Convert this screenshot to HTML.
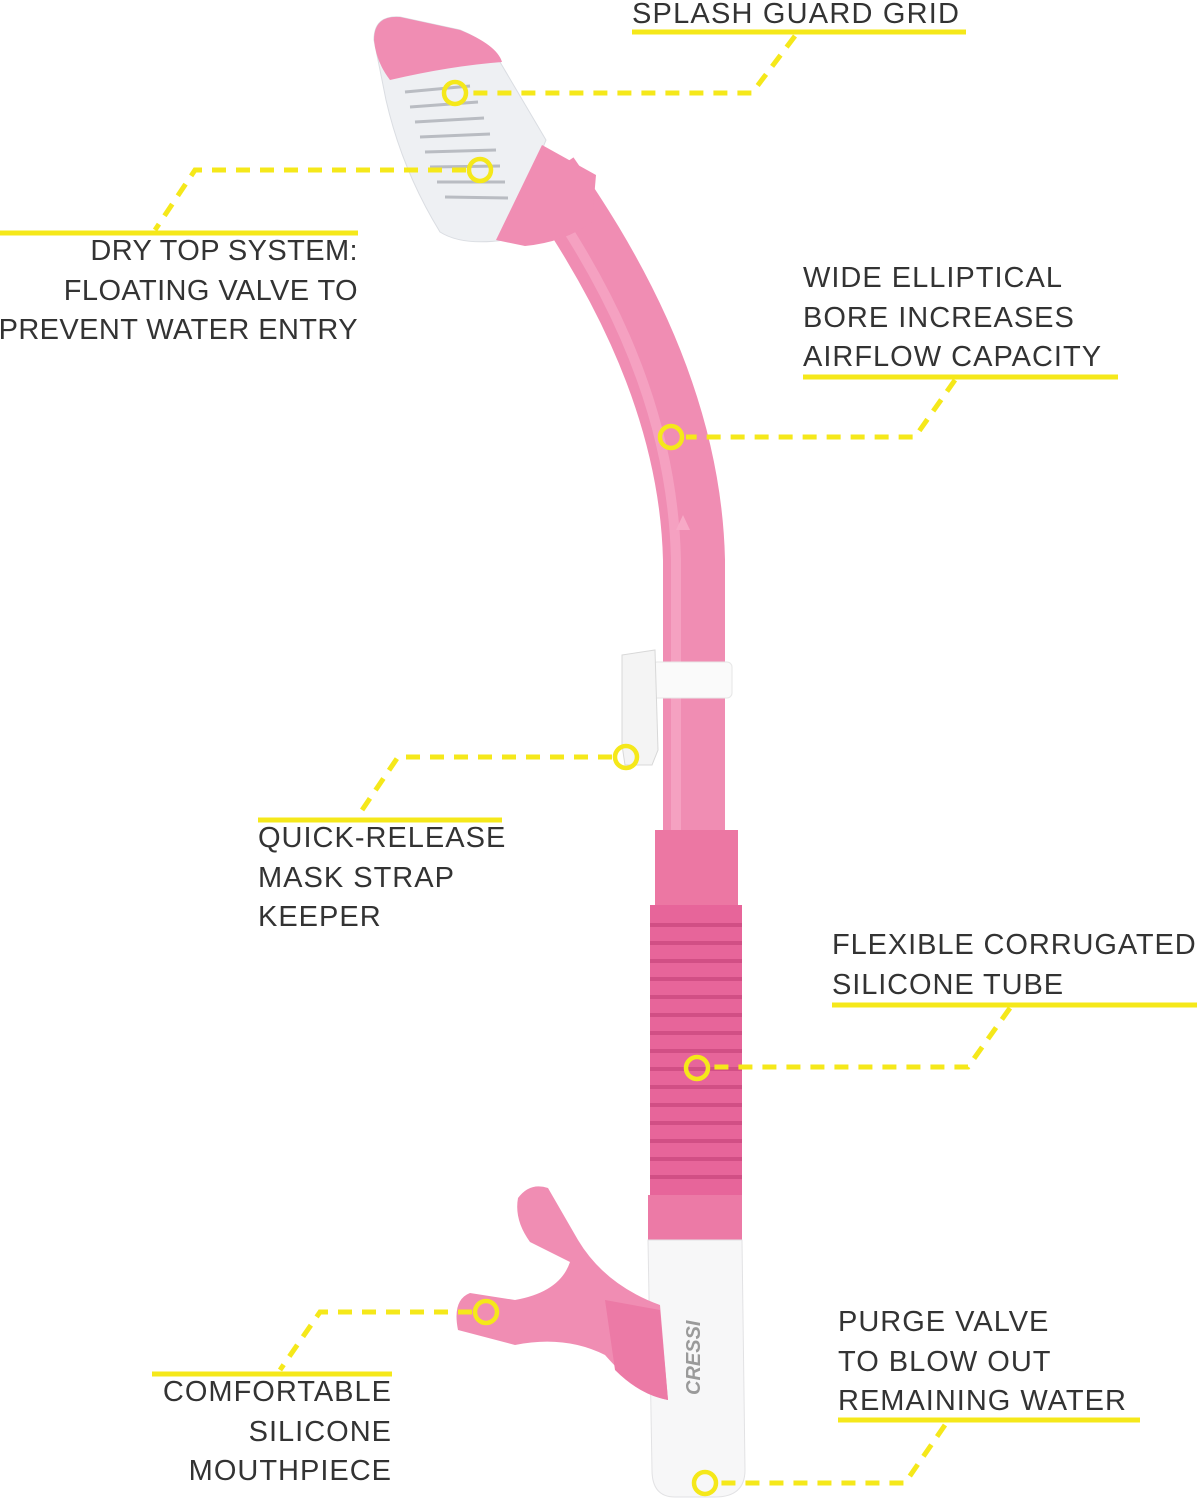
<!DOCTYPE html>
<html><head><meta charset="utf-8">
<style>
html,body{margin:0;padding:0;background:#fff;}
body{width:1198px;height:1500px;position:relative;overflow:hidden;font-family:"Liberation Sans",sans-serif;}
.t{position:absolute;font-size:29px;color:#333;line-height:39.5px;letter-spacing:1px;white-space:nowrap;}
.r{text-align:right;}
svg{position:absolute;left:0;top:0;}
</style></head><body>
<svg width="1198" height="1500" viewBox="0 0 1198 1500">
<path d="M 548 175 C 600 250, 690 390, 694 560 L 694 840" fill="none" stroke="#f08db3" stroke-width="62"/>
<path d="M 538 185 C 590 260, 672 390, 676 560 L 676 840" fill="none" stroke="#f6aac8" stroke-width="10" opacity="0.7"/>
<path d="M 676 530 L 683 515 L 690 530 Z" fill="#f7a9c6"/>
<!-- top cap -->
<path d="M 374 40 Q 374 15 400 17 L 460 30 Q 495 45 500 62 L 546 140 L 505 240 Q 462 246 440 232 Q 402 170 386 100 Z" fill="#eef0f3" stroke="#dadde2" stroke-width="1"/>
<path d="M 374 40 Q 374 15 400 17 L 460 30 Q 497 45 502 62 Q 450 66 390 80 Q 376 62 374 40 Z" fill="#f08db3"/>
<g stroke="#b9bcc2" stroke-width="3">
<line x1="405" y1="92" x2="470" y2="86"/><line x1="410" y1="107" x2="478" y2="102"/>
<line x1="415" y1="122" x2="484" y2="118"/><line x1="420" y1="137" x2="490" y2="134"/>
<line x1="425" y1="152" x2="496" y2="150"/><line x1="430" y1="167" x2="500" y2="166"/>
<line x1="437" y1="182" x2="505" y2="182"/><line x1="445" y1="197" x2="508" y2="198"/>
</g>
<path d="M 542 145 L 596 175 L 592 222 Q 565 242 525 246 L 496 240 Z" fill="#f08db3"/>
<rect x="655" y="830" width="83" height="80" fill="#ec77a3"/>
<rect x="650" y="905" width="92" height="300" fill="#e7659a"/>
<g stroke="#d14f85" stroke-width="4">
<line x1="650" y1="925" x2="742" y2="925"/><line x1="650" y1="943" x2="742" y2="943"/>
<line x1="650" y1="961" x2="742" y2="961"/><line x1="650" y1="979" x2="742" y2="979"/>
<line x1="650" y1="997" x2="742" y2="997"/><line x1="650" y1="1015" x2="742" y2="1015"/>
<line x1="650" y1="1033" x2="742" y2="1033"/><line x1="650" y1="1051" x2="742" y2="1051"/>
<line x1="650" y1="1069" x2="742" y2="1069"/><line x1="650" y1="1087" x2="742" y2="1087"/>
<line x1="650" y1="1105" x2="742" y2="1105"/><line x1="650" y1="1123" x2="742" y2="1123"/>
<line x1="650" y1="1141" x2="742" y2="1141"/><line x1="650" y1="1159" x2="742" y2="1159"/>
<line x1="650" y1="1177" x2="742" y2="1177"/>
</g>
<rect x="648" y="1195" width="94" height="50" fill="#ec7aa6"/>
<path d="M 648 1240 L 742 1240 L 745 1470 Q 745 1497 715 1497 L 675 1497 Q 652 1497 652 1470 Z" fill="#f7f7f8" stroke="#e2e2e4"/>
<text x="0" y="0" transform="translate(700,1395) rotate(-90)" font-family="Liberation Sans" font-weight="bold" font-style="italic" font-size="20" fill="#9a9a9a">CRESSI</text>
<path d="M 518 1198 Q 530 1182 548 1188 L 578 1240 Q 605 1285 660 1305 L 668 1400 Q 640 1395 605 1355 Q 565 1335 515 1345 L 458 1330 Q 452 1300 470 1293 L 515 1300 Q 560 1292 570 1262 L 530 1242 Q 514 1220 518 1198 Z" fill="#f08db3"/>
<path d="M 605 1300 L 660 1310 L 668 1400 Q 640 1395 615 1370 Z" fill="#ec7aa6"/>
<rect x="652" y="662" width="80" height="36" rx="5" fill="#fafafa" stroke="#e6e6e6"/>
<path d="M 622 655 L 655 650 L 658 750 L 652 765 L 625 765 L 622 745 Z" fill="#f4f4f4" stroke="#d8d8d8"/>
<g fill="none" stroke="#f5e81a" stroke-width="5">
<line x1="632" y1="32" x2="966" y2="32"/>
<line x1="0" y1="233" x2="358" y2="233"/>
<line x1="803" y1="377" x2="1118" y2="377"/>
<line x1="258" y1="820" x2="502" y2="820"/>
<line x1="832" y1="1005" x2="1197" y2="1005"/>
<line x1="152" y1="1374" x2="392" y2="1374"/>
<line x1="838" y1="1420" x2="1140" y2="1420"/>
</g>
<g fill="none" stroke="#f5e81a" stroke-width="5" stroke-dasharray="14 10">
<polyline points="795,36 752,93 470,93"/>
<polyline points="466,170 195,170 155,230"/>
<polyline points="955,380 915,437 686,437"/>
<polyline points="612,757 398,757 358,816"/>
<polyline points="1010,1008 968,1067 712,1067"/>
<polyline points="472,1312 320,1312 280,1370"/>
<polyline points="945,1425 905,1483 720,1483"/>
</g>
<g fill="none" stroke="#f5e81a" stroke-width="4.5">
<circle cx="455" cy="93" r="11"/>
<circle cx="480" cy="170" r="11"/>
<circle cx="671" cy="437" r="11"/>
<circle cx="626" cy="757" r="11"/>
<circle cx="697" cy="1068" r="11"/>
<circle cx="486" cy="1312" r="11"/>
<circle cx="705" cy="1483" r="11"/>
</g>
</svg>
<div class="t" style="left:632px;top:-5px;letter-spacing:1.2px;">SPLASH GUARD GRID</div>
<div class="t r" style="right:840px;top:232px;letter-spacing:0.4px;">DRY TOP SYSTEM:<br>FLOATING VALVE TO<br>PREVENT WATER ENTRY</div>
<div class="t" style="left:803px;top:259px;">WIDE ELLIPTICAL<br>BORE INCREASES<br>AIRFLOW CAPACITY</div>
<div class="t" style="left:258px;top:819px;">QUICK-RELEASE<br>MASK STRAP<br>KEEPER</div>
<div class="t" style="left:832px;top:926px;letter-spacing:0.9px;">FLEXIBLE CORRUGATED<br>SILICONE TUBE</div>
<div class="t r" style="right:806px;top:1373px;">COMFORTABLE<br>SILICONE<br>MOUTHPIECE</div>
<div class="t" style="left:838px;top:1303px;">PURGE VALVE<br>TO BLOW OUT<br>REMAINING WATER</div>
</body></html>
